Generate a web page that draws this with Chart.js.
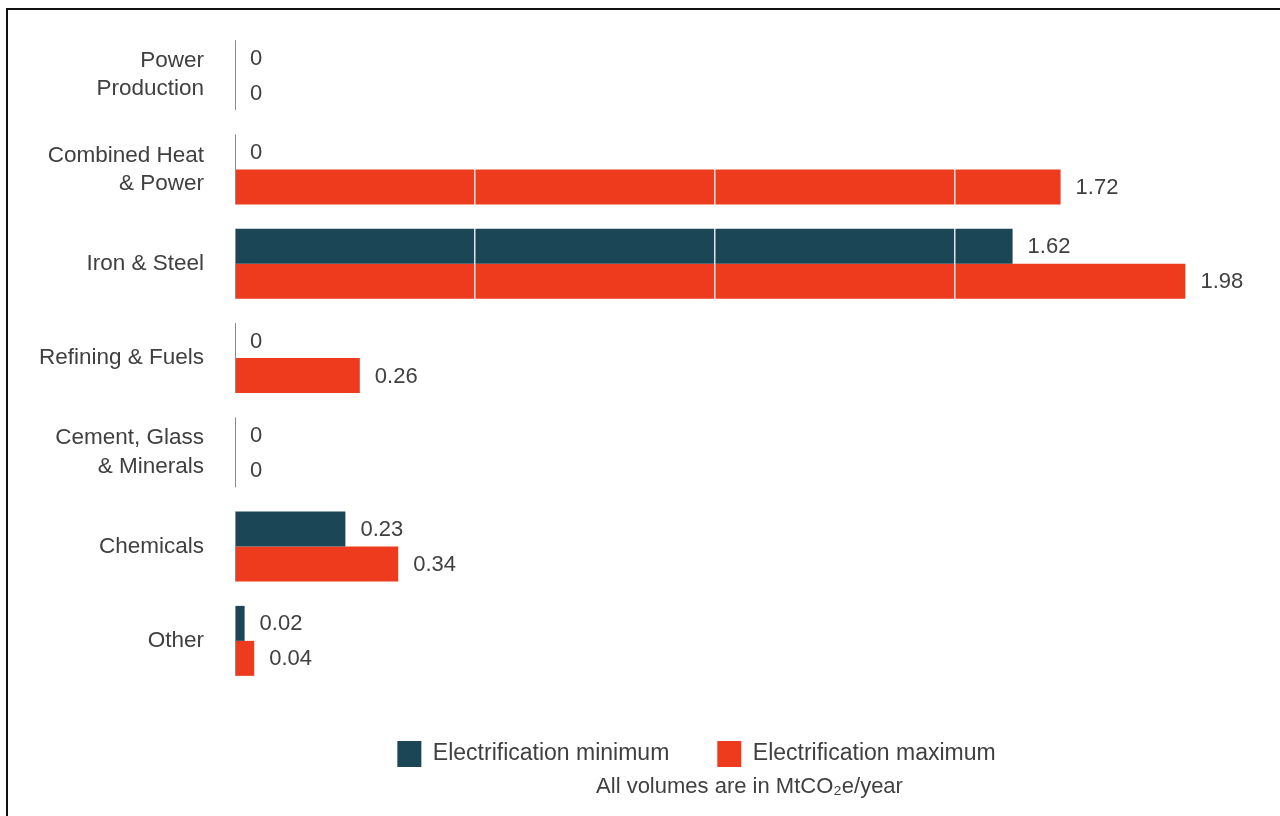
<!DOCTYPE html>
<html>
<head>
<meta charset="utf-8">
<script src="https://cdn.jsdelivr.net/npm/chart.js@4.4.1/dist/chart.umd.min.js"></script>
<style>
  html, body { margin: 0; padding: 0; background: #fff; overflow: hidden; }
  #wrap { position: relative; width: 1280px; height: 816px; }
  #frame { position: absolute; left: 6px; top: 8px; width: 1300px; height: 840px;
           border-left: 2px solid #111; border-top: 2px solid #111; pointer-events: none; }
  canvas { position: absolute; left: 0; top: 0; }
</style>
</head>
<body>
<div id="wrap">
  <canvas id="c" width="1280" height="816"></canvas>
  <div id="frame"></div>
</div>
<script>
// ---- data ----
const categories = [
  ["Power", "Production"],
  ["Combined Heat", "& Power"],
  "Iron & Steel",
  "Refining & Fuels",
  ["Cement, Glass", "& Minerals"],
  "Chemicals",
  "Other"
];
const electrificationMin = [0, 0, 1.62, 0, 0, 0.23, 0.02];
const electrificationMax = [0, 1.72, 1.98, 0.26, 0, 0.34, 0.04];
const seriesNames = ["Electrification minimum", "Electrification maximum"];
const unitNote = "All volumes are in MtCO\u2082e/year";
const xTickStep = 0.5;
const xMax = 2.1;

const FONT = "'Liberation Sans', Arial, Helvetica, sans-serif";
const TEXT = "#404040";
const DARK = "#1b4656";
const RED = "#ee3a1d";

const valueLabels = {
  id: "valueLabels",
  afterDraw(chart) {
    const ctx = chart.ctx;
    ctx.save();
    ctx.font = "22px " + FONT;
    ctx.fillStyle = TEXT;
    ctx.textAlign = "left";
    ctx.textBaseline = "middle";
    chart.data.datasets.forEach((ds, di) => {
      const meta = chart.getDatasetMeta(di);
      meta.data.forEach((el, i) => {
        const v = ds.data[i];
        const txt = v === 0 ? "0" : v.toFixed(2);
        ctx.fillText(txt, el.x + 15, el.y + 1);
      });
    });
    // axis segments per category
    const m0 = chart.getDatasetMeta(0).data;
    const m1 = chart.getDatasetMeta(1).data;
    ctx.strokeStyle = "#8a8a8a";
    ctx.lineWidth = 1;
    const x = chart.chartArea.left + 0.5;
    m0.forEach((el, i) => {
      const top = el.y - el.height / 2;
      const bot = m1[i].y + m1[i].height / 2;
      ctx.beginPath();
      ctx.moveTo(x, top);
      ctx.lineTo(x, bot);
      ctx.stroke();
    });
    ctx.restore();
  }
};

const placeBottom = {
  id: "placeBottom",
  afterLayout(chart) {
    const lg = chart.legend;
    if (lg) {
      lg.left += 75; lg.right += 75;
      const t = chart.chartArea.bottom + 5;
      lg.top = t; lg.bottom = t + lg.height;
    }
    const tb = chart.titleBlock;
    if (tb) {
      tb.left += 128; tb.right += 128;
      const t = chart.chartArea.bottom + 88;
      tb.top = t; tb.bottom = t + tb.height;
    }
  }
};

new Chart(document.getElementById("c"), {
  type: "bar",
  data: {
    labels: categories,
    datasets: [
      { label: seriesNames[0], data: electrificationMin, backgroundColor: DARK, borderWidth: 0,
        categoryPercentage: 0.742, barPercentage: 1.0 },
      { label: seriesNames[1], data: electrificationMax, backgroundColor: RED, borderWidth: 0,
        categoryPercentage: 0.742, barPercentage: 1.0 }
    ]
  },
  options: {
    indexAxis: "y",
    responsive: false,
    devicePixelRatio: 1,
    animation: false,
    layout: { padding: { top: 28, right: 37, bottom: 22, left: 0 } },
    scales: {
      x: {
        min: 0, max: xMax,
        ticks: { display: false, stepSize: xTickStep },
        grid: { color: "rgba(255,255,255,0.85)", lineWidth: 1.5, drawTicks: false, z: 1 },
        border: { display: false }
      },
      y: {
        grid: { display: false, drawTicks: false },
        border: { display: false },
        ticks: { color: TEXT, padding: 31, font: { family: FONT, size: 22.5, lineHeight: 1.25 } },
        afterFit(scale) { scale.width = 235; scale.paddingTop = 0; scale.paddingBottom = 0; }
      }
    },
    plugins: {
      tooltip: { enabled: false },
      legend: {
        position: "bottom",
        labels: { boxWidth: 24, boxHeight: 26, padding: 48, color: TEXT,
                  font: { family: FONT, size: 23 } }
      },
      title: {
        display: true, position: "bottom", text: unitNote, color: TEXT,
        font: { family: FONT, size: 22, weight: "normal", lineHeight: 1 },
        padding: { top: 0, bottom: 0 }
      }
    }
  },
  plugins: [valueLabels, placeBottom]
});
</script>
</body>
</html>
